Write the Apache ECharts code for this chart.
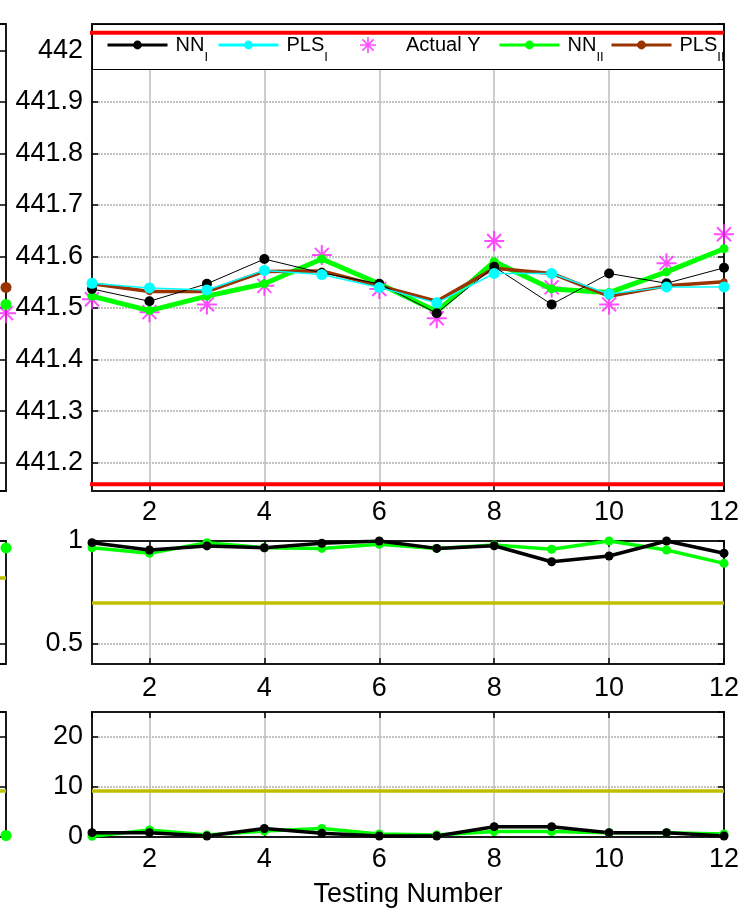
<!DOCTYPE html>
<html>
<head>
<meta charset="utf-8">
<script src="https://cdn.jsdelivr.net/npm/echarts@6/dist/echarts.min.js"></script>
<style>html,body{margin:0;padding:0;background:#fff}#c{width:752px;height:908px}</style>
</head>
<body>
<div id="c"></div>
<script>
// ---------- data ----------
const testNo = [1, 2, 3, 4, 5, 6, 7, 8, 9, 10, 11, 12];
const xTicks = [2, 4, 6, 8, 10, 12];

// top panel: predicted / actual Y
const nn1Y   = [441.537, 441.513, 441.547, 441.595, 441.568, 441.547, 441.490, 441.580, 441.507, 441.567, 441.548, 441.578];
const pls1Y  = [441.548, 441.539, 441.535, 441.573, 441.565, 441.540, 441.510, 441.567, 441.567, 441.527, 441.541, 441.541];
const actualY = [441.517, 441.492, 441.507, 441.543, 441.603, 441.537, 441.480, 441.630, 441.540, 441.507, 441.587, 441.643];
const nn2Y   = [441.523, 441.495, 441.523, 441.547, 441.595, 441.547, 441.493, 441.590, 441.537, 441.530, 441.570, 441.615];
const pls2Y  = [441.547, 441.532, 441.532, 441.571, 441.572, 441.543, 441.513, 441.577, 441.567, 441.523, 441.543, 441.551];
const yLimits = [441.158, 442.034];
const limitSpan = [-0.62, 12];

// middle panel
const nn1R = [0.992, 0.956, 0.976, 0.967, 0.989, 1.000, 0.964, 0.977, 0.899, 0.927, 1.000, 0.940];
const nn2R = [0.967, 0.940, 0.992, 0.967, 0.964, 0.984, 0.964, 0.980, 0.960, 1.000, 0.956, 0.891];
const rThreshold = 0.7;

// bottom panel
const nn1E = [0.87, 0.87, 0.2, 1.7, 0.73, 0.2, 0.2, 2.07, 2.07, 0.87, 0.87, 0.2];
const nn2E = [0.13, 1.4, 0.4, 1.2, 1.7, 0.6, 0.4, 1.1, 1.1, 0.87, 0.87, 0.6];
const eThreshold = 9.3;

// partially visible neighbouring panels (only last point visible)
const leftX = [12];
const leftPls2Y = [441.54];
const leftNn2Y = [441.507];
const leftActualY = [441.49];
const leftNn2R = [0.966];
const leftRThreshold = 0.824;
const leftNn2E = [0.3];
const leftEThreshold = 9.2;

const legendNames = ['NN_I', 'PLS_I', 'Actual Y', 'NN_II', 'PLS_II'];
const legendMain = ['NN', 'PLS', 'Actual Y', 'NN', 'PLS'];
const legendSub = ['I', 'I', '', 'II', 'II'];

// ---------- chart ----------
const FONT = '"Liberation Sans", Arial, sans-serif';
const LBL = 27;
const LEG = 20, LEGSUB = 13;
const BORDER = '#1a1a1a';
const GREEN = '#00ff00', CYAN = '#00ffff', BROWN = '#993300', MAG = '#ff22ff', YEL = '#bfbf00', RED = '#ff0000';
const ASTER = 'path://M0 9H20V11H0Z M9 0H11V20H9Z M2.3 3.7L3.7 2.3L17.7 16.3L16.3 17.7Z M16.3 2.3L17.7 3.7L3.7 17.7L2.3 16.3Z';

const pts = (xs, ys) => ys.map((v, i) => [xs[i], v]);

const panels = [
  {top: 24, height: 467, min: 441.145, max: 442.051, split: 9, showMin: false, showMax: false, xMargin: 8},
  {top: 541, height: 123, min: 0.4, max: 1.0, split: 1, showMin: false, showMax: true, xMargin: 11},
  {top: 712, height: 125, min: 0, max: 25, split: 2, showMin: true, showMax: false, xMargin: 9}
];

const grids = [];
panels.forEach(p => grids.push({left: 92, width: 632, top: p.top, height: p.height}));
panels.forEach(p => grids.push({left: -626, width: 632, top: p.top, height: p.height}));
grids.forEach(g => Object.assign(g, {show: true, borderColor: BORDER, borderWidth: 2, backgroundColor: 'transparent', containLabel: false, outerBoundsMode: 'none'}));

const tick = {show: true, inside: true, length: 6, lineStyle: {color: '#000', width: 1.5}};
const frame = {show: true, onZero: false, lineStyle: {color: BORDER, width: 2}};
const xAxes = [], yAxes = [];
panels.forEach((p, i) => {
  const bottom = {
    gridIndex: i, type: 'value', min: 1, max: 12, position: 'bottom',
    axisLine: frame, axisTick: tick,
    axisLabel: {margin: p.xMargin, fontSize: LBL, fontFamily: FONT, color: '#000', showMinLabel: false,
      formatter: v => (xTicks.indexOf(v) >= 0 ? String(v) : '')},
    splitLine: {show: true, showMinLine: false, showMaxLine: false, lineStyle: {color: '#bdbdbd', width: 1.5, type: 'solid'}}
  };
  if (i === 2) {
    Object.assign(bottom, {name: 'Testing Number', nameLocation: 'middle', nameGap: 44,
      nameTextStyle: {fontSize: LBL, fontFamily: FONT, color: '#000'}});
  }
  xAxes.push(bottom);
  xAxes.push({gridIndex: i, type: 'value', min: 1, max: 12, position: 'top',
    axisLine: frame, axisTick: tick, axisLabel: {show: false}, splitLine: {show: false}});
  yAxes.push({gridIndex: i, type: 'value', min: p.min, max: p.max, splitNumber: p.split, position: 'left',
    axisLine: frame, axisTick: tick,
    axisLabel: {margin: 9, fontSize: LBL, fontFamily: FONT, color: '#000', showMinLabel: p.showMin, showMaxLabel: p.showMax},
    splitLine: {show: true, showMinLine: false, showMaxLine: false, lineStyle: {color: '#b0b0b0', width: 1.5, type: [2, 1]}}});
  yAxes.push({gridIndex: i, type: 'value', min: p.min, max: p.max, splitNumber: p.split, position: 'right',
    axisLine: frame, axisTick: tick, axisLabel: {show: false}, splitLine: {show: false}});
});
panels.forEach((p, i) => {
  xAxes.push({gridIndex: 3 + i, type: 'value', min: 1, max: 12, show: false});
  yAxes.push({gridIndex: 3 + i, type: 'value', min: p.min, max: p.max, splitNumber: p.split, position: 'right',
    axisLine: {show: false}, axisTick: tick, axisLabel: {show: false}, splitLine: {show: false}});
});

function lineSeries(name, xi, yi, data, color, width, size, extra) {
  return Object.assign({
    name, type: 'line', xAxisIndex: xi, yAxisIndex: yi, data,
    symbol: 'circle', symbolSize: size, showSymbol: true,
    lineStyle: {color, width}, itemStyle: {color}, emphasis: {disabled: true}, animation: false
  }, extra || {});
}
function thresholdLine(value, color) {
  return {silent: true, symbol: 'none', label: {show: false}, animation: false,
    lineStyle: {color, width: 3.5, type: 'solid'}, data: [{yAxis: value}]};
}

const series = [
  lineSeries('NN_II', 0, 0, pts(testNo, nn2Y), GREEN, 5, 9),
  lineSeries('PLS_II', 0, 0, pts(testNo, pls2Y), BROWN, 3.5, 7),
  lineSeries('NN_I', 0, 0, pts(testNo, nn1Y), '#000', 1, 10),
  lineSeries('PLS_I', 0, 0, pts(testNo, pls1Y), CYAN, 1.5, 11),
  {name: 'Actual Y', type: 'scatter', xAxisIndex: 0, yAxisIndex: 0, data: pts(testNo, actualY),
    symbol: ASTER, symbolSize: 20, itemStyle: {color: MAG}, emphasis: {disabled: true}, animation: false},
  lineSeries('upper', 0, 0, pts(limitSpan, [yLimits[1], yLimits[1]]), RED, 4, 0, {symbol: 'none', clip: false, z: 6}),
  lineSeries('lower', 0, 0, pts(limitSpan, [yLimits[0], yLimits[0]]), RED, 4, 0, {symbol: 'none', clip: false, z: 6}),
  lineSeries('NN_II r', 2, 2, pts(testNo, nn2R), GREEN, 3.5, 9, {markLine: thresholdLine(rThreshold, YEL)}),
  lineSeries('NN_I r', 2, 2, pts(testNo, nn1R), '#000', 3.5, 9),
  lineSeries('NN_II e', 4, 4, pts(testNo, nn2E), GREEN, 3.5, 9, {markLine: thresholdLine(eThreshold, YEL)}),
  lineSeries('NN_I e', 4, 4, pts(testNo, nn1E), '#000', 3.5, 9),
  lineSeries('L pls2', 6, 6, pts(leftX, leftPls2Y), BROWN, 3, 11),
  lineSeries('L nn2', 6, 6, pts(leftX, leftNn2Y), GREEN, 3, 11),
  {name: 'L act', type: 'scatter', xAxisIndex: 6, yAxisIndex: 6, data: pts(leftX, leftActualY),
    symbol: ASTER, symbolSize: 20, itemStyle: {color: MAG}, animation: false},
  lineSeries('L nn2 r', 7, 7, pts(leftX, leftNn2R), GREEN, 3, 11, {markLine: thresholdLine(leftRThreshold, YEL)}),
  lineSeries('L nn2 e', 8, 8, pts(leftX, leftNn2E), GREEN, 3, 11, {markLine: thresholdLine(leftEThreshold, YEL)})
];

// legend: one entry per component so each sits where the reference places it
const legendLefts = [106, 217, 360, 498, 610];
const rich = {
  m: {fontFamily: FONT, fontSize: LEG, color: '#000', lineHeight: 38, padding: [0, 0, 0, 3]},
  s: {fontFamily: FONT, fontSize: LEGSUB, color: '#000', verticalAlign: 'bottom'}
};
const legends = legendNames.map((n, i) => ({
  left: legendLefts[i], top: 35, padding: 0, itemGap: 0, itemWidth: 60,
  itemHeight: n === 'Actual Y' ? 16 : 11,
  selectedMode: false, z: 5, lineStyle: {width: 3},
  textStyle: {fontFamily: FONT, fontSize: LEG, color: '#000', rich},
  formatter: () => '{m|' + legendMain[i] + '}' + (legendSub[i] ? '{s|' + legendSub[i] + '}' : ''),
  data: [n]
}));

const option = {
  animation: false,
  backgroundColor: '#fff',
  textStyle: {fontFamily: FONT},
  grid: grids,
  xAxis: xAxes,
  yAxis: yAxes,
  legend: legends,
  graphic: [{
    type: 'rect', z: 3, silent: true,
    shape: {x: 92.5, y: 24.5, width: 631, height: 45},
    style: {fill: '#fff', stroke: '#000', lineWidth: 1}
  }],
  series
};
const chart = echarts.init(document.getElementById('c'), null, {renderer: 'canvas'});
chart.setOption(option);
</script>
</body>
</html>
